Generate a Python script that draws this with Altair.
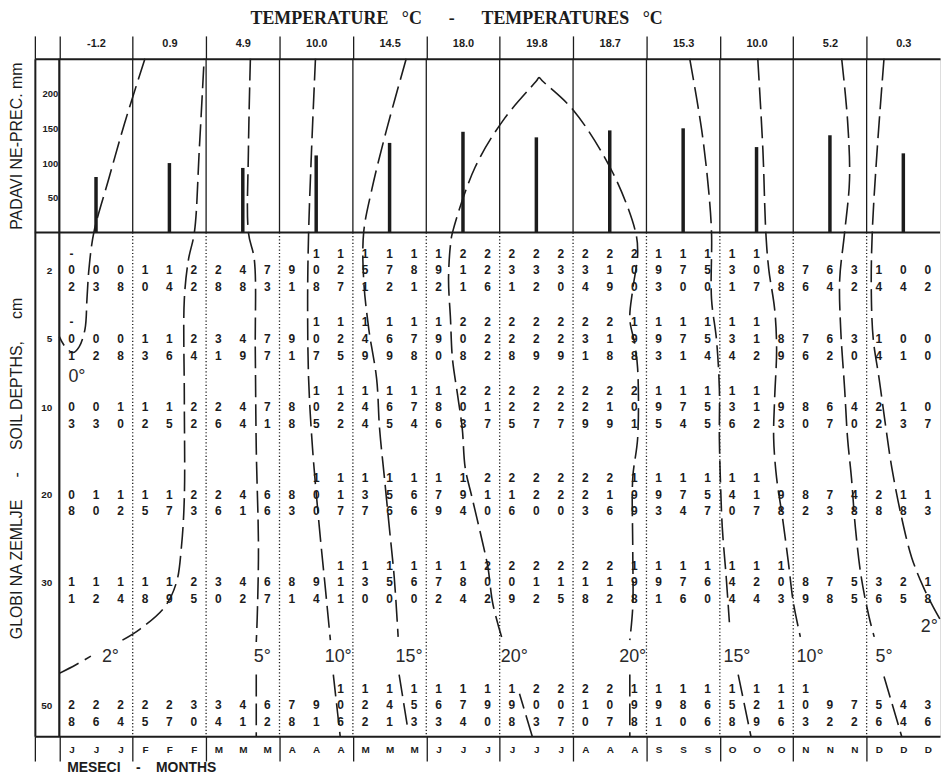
import json
import altair as alt
import pandas as pd

# ---------------- data ----------------
month_letters = ["J", "F", "M", "A", "M", "J", "J", "A", "S", "O", "N", "D"]
air_temp = ["-1.2", "0.9", "4.9", "10.0", "14.5", "18.0", "19.8", "18.7", "15.3", "10.0", "5.2", "0.3"]
precip_mm = [80, 100, 93, 111, 129, 145, 137, 147, 150, 123, 140, 114]
depths_cm = [2, 5, 10, 20, 30, 50]

# dekad soil temperatures (deg C), 3 per month
soil_2 = [-0.2, 0.3, 0.8, 1.0, 1.4, 2.2, 2.8, 4.8, 7.3, 9.1, 10.8, 12.7,
          15.1, 17.2, 18.1, 19.2, 21.1, 22.6, 23.1, 23.2, 23.0, 23.4, 21.9, 20.0,
          19.3, 17.0, 15.0, 13.1, 10.7, 8.8, 7.6, 6.4, 3.2, 1.4, 0.4, 0.2]
soil_5 = [-0.1, 0.2, 0.8, 1.3, 1.6, 2.4, 3.1, 4.9, 7.7, 9.1, 10.7, 12.5,
          14.9, 16.9, 17.8, 19.0, 20.8, 22.2, 22.8, 22.9, 22.9, 23.1, 21.8, 19.8,
          19.3, 17.1, 15.4, 13.4, 11.2, 8.9, 7.6, 6.2, 3.0, 1.4, 0.1, 0.0]
soil_10 = [0.3, 0.3, 1.0, 1.2, 1.5, 2.2, 2.6, 4.4, 7.1, 8.8, 10.5, 12.2,
           14.4, 16.5, 17.4, 18.6, 20.3, 21.7, 22.5, 22.7, 22.7, 22.9, 21.9, 20.1,
           19.5, 17.4, 15.5, 13.6, 11.2, 9.3, 8.0, 6.7, 4.0, 2.2, 1.3, 0.7]
soil_20 = [0.8, 1.0, 1.2, 1.5, 1.7, 2.3, 2.6, 4.1, 6.6, 8.3, 10.0, 11.7,
           13.7, 15.6, 16.6, 17.9, 19.4, 21.0, 21.6, 22.0, 22.0, 22.3, 21.6, 19.9,
           19.3, 17.4, 15.7, 14.0, 11.7, 9.8, 8.2, 7.3, 4.8, 2.8, 1.8, 1.3]
soil_30 = [1.1, 1.2, 1.4, 1.8, 1.9, 2.5, 3.0, 4.2, 6.7, 8.1, 9.4, 11.1,
           13.0, 15.0, 16.0, 17.2, 18.4, 20.2, 20.9, 21.2, 21.5, 21.8, 21.2, 19.8,
           19.1, 17.6, 16.0, 14.4, 12.4, 10.3, 8.9, 7.8, 5.5, 3.6, 2.5, 1.8]
soil_50 = [2.8, 2.6, 2.4, 2.5, 2.7, 3.0, 3.4, 4.1, 6.2, 7.8, 9.1, 10.6,
           12.2, 14.1, 15.3, 16.3, 17.4, 19.0, 19.8, 20.3, 20.7, 21.0, 20.7, 19.8,
           19.1, 18.0, 16.6, 15.8, 12.9, 11.6, 10.3, 9.2, 7.2, 5.6, 4.4, 3.6]

# isotherm traces: (dekad position, depth cm); negative values lie in the precipitation panel (mm)
iso_0 = [(3.50, -250), (2.70, -161), (2.01, -76), (1.41, 0), (1.21, 1.95), (1.13, 3.26),
         (1.05, 4.57), (0.81, 5.58), (0.56, 6.0), (0.24, 5.58), (0.0, 4.9)]
iso_2a = [(0.0, 44.8), (0.68, 43.4), (1.29, 42.0)]
iso_2b = [(2.58, 39.4), (3.30, 37.6), (4.31, 34.0), (4.79, 30.0), (4.99, 26.0), (5.11, 20.3),
          (5.11, 9.35), (5.11, 3.26), (5.28, 1.42), (5.52, 0), (5.72, -118.6), (5.92, -250)]
iso_5a = [(7.81, -250), (7.73, -118.6), (7.73, 0), (7.97, 1.42), (8.01, 5.72), (8.05, 14.66),
          (8.14, 26.0), (8.09, 35.65), (8.05, 39.7)]
iso_5b = [(8.05, 45.0), (8.05, 55)]
iso_10a = [(10.47, -250), (10.31, -118.6), (10.19, 0), (10.15, 3.26), (10.19, 7.9), (10.35, 14.66),
           (10.63, 23.75), (10.87, 30.8), (11.08, 39.4)]
iso_10b = [(11.2, 45.0), (11.48, 55)]
iso_15a = [(14.18, -250), (13.37, -147), (12.77, -61.4), (12.44, 0), (12.44, 2.39), (12.65, 4.57),
           (12.97, 7.9), (13.09, 12.39), (13.29, 18.07), (13.49, 23.75), (13.69, 29.43), (13.85, 38.87)]
iso_15b = [(13.89, 45.0), (14.26, 54.2)]
iso_20a = [(19.33, 55), (18.81, 48.1)]
iso_20b = [(18.08, 38.9), (17.72, 33.5), (17.52, 28.3), (17.28, 25.2), (16.87, 20.3), (16.59, 16.9),
           (16.47, 12.4), (16.27, 8.98), (16.07, 6.45), (15.99, 4.13), (15.91, 2.39), (15.99, 0.63),
           (16.07, 0), (17.0, -94.3), (18.2, -164.3), (19.5, -218), (19.61, -222.9), (19.75, -218),
           (21.02, -175.7), (22.63, -85.7), (23.56, 0), (23.64, 1.16), (23.44, 2.83), (23.32, 4.13),
           (23.52, 5.36), (23.64, 7.17), (23.64, 13.52), (23.44, 18.07), (23.44, 26.0), (23.44, 34.0),
           (23.32, 39.4)]
iso_20c = [(23.32, 45.0), (23.32, 55)]
iso_15c = [(25.77, -250), (26.26, -147), (26.54, -61.4), (26.66, 0), (26.66, 3.26), (26.86, 5.0),
           (26.98, 8.62), (26.98, 13.52), (27.02, 18.07), (27.1, 23.75), (27.26, 29.43), (27.39, 36.5)]
iso_15d = [(27.75, 45.0), (28.27, 55)]
iso_10c = [(28.55, -250), (28.76, -118.6), (28.88, 0), (29.0, 1.95), (29.24, 3.70), (29.32, 5.72),
           (29.24, 9.35), (29.2, 13.52), (29.32, 18.07), (29.56, 22.61), (29.8, 27.7), (30.0, 33.2),
           (30.29, 38.87)]
iso_5c = [(31.98, -250), (32.22, -161.4), (32.3, -75.7), (32.1, 0), (31.9, 2.39), (31.94, 4.57),
          (32.1, 8.62), (32.22, 13.52), (32.38, 18.07), (32.54, 23.75), (32.78, 29.43), (33.1, 35.65),
          (33.31, 38.87)]
iso_5d = [(33.71, 45.3), (34.43, 55)]
iso_2c = [(33.71, -250), (33.43, -118.6), (33.23, 0), (33.19, 2.83), (33.27, 5.0), (33.51, 7.9),
          (33.79, 12.39), (34.03, 16.93), (34.43, 22.61), (34.84, 27.16), (35.32, 30.8), (35.72, 34.0),
          (36.0, 36.0)]

iso_label_text = ["0°", "2°", "5°", "10°", "15°", "20°", "20°", "15°", "10°", "5°", "2°"]
iso_label_u = [0.72, 2.09, 8.3, 11.4, 14.3, 18.6, 23.44, 27.7, 30.69, 33.71, 35.56]
iso_label_v = [7.76, 42.1, 42.1, 42.1, 42.1, 42.1, 42.1, 42.1, 42.1, 42.1, 37.3]

# ---------------- layout / style ----------------
W = 910
H = 681
DEK = W / 37.0
k = H / 682.0
LINE_H = 16.8 * k
Y_DOMAIN = [-250, 0, 2, 5, 10, 20, 30, 50, 55]
Y_RANGE = [r * k for r in [0, 175, 213, 282, 351, 439, 527, 651, 682]]

SANS = "Liberation Sans, Arial, Helvetica, sans-serif"
SERIF = "Liberation Serif, Times New Roman, serif"
INK = "#1c1c1c"
NB = "\u00a0"  # non-collapsing space used for the wide word spacing of the original lettering

xs = alt.Scale(domain=[-1, 36], nice=False, zero=False)
ys = alt.Scale(domain=Y_DOMAIN, range=Y_RANGE, nice=False, zero=False)


def stack(v):
    chars = list(f"{round(abs(v) * 10):02d}")
    if v < 0:
        chars = ["-"] + chars
    while len(chars) < 3:
        chars = [" "] + chars
    return "\n".join(chars)


series = [soil_2, soil_5, soil_10, soil_20, soil_30, soil_50]
num_rows = []
for d, vals in zip(depths_cm, series):
    for i, v in enumerate(vals):
        num_rows.append({"u": i + 0.5, "depth": d, "txt": stack(v)})
num_df = pd.DataFrame(num_rows)

precip_df = pd.DataFrame({"u": [3 * m + 1.5 for m in range(12)], "p": precip_mm})
precip_df["negp"] = -precip_df["p"]
precip_df["surf"] = 0

segments = {"0": iso_0, "2a": iso_2a, "2b": iso_2b, "5a": iso_5a, "5b": iso_5b,
            "10a": iso_10a, "10b": iso_10b, "15a": iso_15a, "15b": iso_15b,
            "20a": iso_20a, "20b": iso_20b, "20c": iso_20c, "15c": iso_15c, "15d": iso_15d,
            "10c": iso_10c, "5c": iso_5c, "5d": iso_5d, "2c": iso_2c}
iso_rows = []
for name, pts in segments.items():
    for j, (u, v) in enumerate(pts):
        iso_rows.append({"seg": name, "seq": j, "u": u, "v": v})
iso_df = pd.DataFrame(iso_rows)
lab_df = pd.DataFrame({"t": iso_label_text, "u": iso_label_u, "v": iso_label_v})

bound_df = pd.DataFrame({"u": list(range(3, 36, 3))})
bound_df["top"] = Y_DOMAIN[0]
bound_df["surf"] = 0
bound_df["bot"] = Y_DOMAIN[-1]
jan_df = pd.DataFrame({"u": [0], "top": [Y_DOMAIN[0]], "bot": [Y_DOMAIN[-1]]})
surf_df = pd.DataFrame({"v": [0], "u1": [-1], "u2": [36]})

title_text = ("TEMPERATURE" + NB * 3 + "°C" + NB * 6 + "-" + NB * 6 + "TEMPERATURES" + NB * 3 + "°C")
depth_title = ("GLOBI NA ZEMLJE" + NB * 5 + "-" + NB * 5 + "SOIL DEPTHS," + NB * 5 + "cm")
month_title = ("MESECI" + NB * 4 + "-" + NB * 4 + "MONTHS")

# ---------------- axes ----------------
top_axis = alt.Axis(
    orient="top", values=[-1] + list(range(0, 34, 3)), tickSize=23, tickColor=INK, tickWidth=1.3,
    domainColor=INK, domainWidth=2,
    labelExpr=f"datum.value >= 0 ? {json.dumps(air_temp)}[floor(datum.value / 3)] : ''",
    labelOffset=1.5 * DEK, labelPadding=-8, labelBaseline="middle", labelAlign="center",
    labelFont=SANS, labelFontSize=11, labelFontWeight="bold", labelColor=INK,
    labelFlush=False, labelOverlap=False, labelBound=False, grid=False, title=None)

bottom_axis = alt.Axis(
    orient="bottom", values=[-1] + list(range(0, 36)), tickSize=25,
    tickColor={"condition": {"test": "datum.value < 0 || datum.value % 3 == 0", "value": INK},
               "value": "transparent"},
    tickWidth=1.3, domainColor=INK, domainWidth=2,
    labelExpr=f"datum.value >= 0 ? {json.dumps(month_letters)}[floor(datum.value / 3)] : ''",
    labelOffset=DEK / 2, labelPadding=-12, labelBaseline="middle", labelAlign="center",
    labelFont=SANS, labelFontSize=10, labelFontWeight="bold", labelColor=INK,
    labelFlush=False, labelOverlap=False, labelBound=False, grid=False,
    title=month_title, titleFont=SANS, titleFontSize=14, titleFontWeight="bold",
    titleColor=INK, titleAlign="left", titleBaseline="alphabetic", titleX=32, titleY=36)

precip_axis = alt.Axis(
    orient="left", values=[-200, -150, -100, -50], labelExpr="abs(datum.value)", ticks=False,
    labelPadding=-23, labelAlign="right", labelBaseline="middle", labelFont=SANS,
    labelFontSize=9.5, labelFontWeight="bold", labelColor=INK, domain=True, domainColor=INK,
    domainWidth=2, grid=False, labelBound=False, labelFlush=False, labelOverlap=False,
    title="PADAVI NE-PREC. mm", titleFont=SANS, titleFontSize=16, titleFontWeight="normal",
    titleColor=INK, titleAngle=270, titleAlign="center", titleBaseline="bottom",
    titleX=-10, titleY=87.5 * k)

depth_axis = alt.Axis(
    orient="left", values=depths_cm, ticks=False, labelPadding=-17, labelAlign="right",
    labelBaseline="middle", labelFont=SANS, labelFontSize=10, labelFontWeight="bold",
    labelColor=INK, domain=False, grid=False, labelBound=False, labelFlush=False,
    labelOverlap=False,
    title=depth_title, titleFont=SANS, titleFontSize=16,
    titleFontWeight="normal", titleColor=INK, titleAngle=270, titleAlign="center",
    titleBaseline="bottom", titleX=-10, titleY=(470 - 58) * k)

# ---------------- layers ----------------
rule_top = alt.Chart(bound_df).mark_rule(color=INK, strokeWidth=1.3).encode(
    x=alt.X("u:Q", scale=xs, axis=None), y=alt.Y("top:Q", scale=ys, axis=None), y2="surf:Q")
rule_bot = alt.Chart(bound_df).mark_rule(color=INK, strokeWidth=1.3, strokeDash=[1.2, 2.2]).encode(
    x=alt.X("u:Q", scale=xs, axis=None), y=alt.Y("surf:Q", scale=ys, axis=None), y2="bot:Q")
rule_jan = alt.Chart(jan_df).mark_rule(color=INK, strokeWidth=2.2).encode(
    x=alt.X("u:Q", scale=xs, axis=None), y=alt.Y("top:Q", scale=ys, axis=None), y2="bot:Q")
rule_surf = alt.Chart(surf_df).mark_rule(color=INK, strokeWidth=2).encode(
    x=alt.X("u1:Q", scale=xs, axis=None), x2="u2:Q", y=alt.Y("v:Q", scale=ys, axis=None))

bars = alt.Chart(precip_df).mark_rule(color=INK, strokeWidth=3.5).encode(
    x=alt.X("u:Q", scale=xs, axis=top_axis),
    y=alt.Y("negp:Q", scale=ys, axis=precip_axis), y2="surf:Q")

nums = alt.Chart(num_df).mark_text(
    font=SANS, fontSize=12, fontWeight="bold", color=INK, lineBreak="\n",
    lineHeight=LINE_H, baseline="middle", align="center", dy=-LINE_H).encode(
    x=alt.X("u:Q", scale=xs, axis=bottom_axis),
    y=alt.Y("depth:Q", scale=ys, axis=depth_axis), text="txt:N")

iso = alt.Chart(iso_df).mark_line(
    color=INK, strokeWidth=1.6, strokeDash=[22, 7], interpolate="catmull-rom").encode(
    x=alt.X("u:Q", scale=xs, axis=None), y=alt.Y("v:Q", scale=ys, axis=None),
    detail="seg:N", order="seq:Q")

iso_lab = alt.Chart(lab_df).mark_text(
    font=SANS, fontSize=18, color="#2a2a2a", baseline="middle", align="center").encode(
    x=alt.X("u:Q", scale=xs, axis=None), y=alt.Y("v:Q", scale=ys, axis=None), text="t:N")

chart = alt.layer(rule_top, rule_bot, rule_jan, rule_surf, bars, nums, iso, iso_lab).resolve_axis(
    x="independent", y="independent").properties(
    width=W, height=H, padding=0,
    title=alt.Title(title_text, font=SERIF, fontSize=18,
                    fontWeight="bold", color=INK, anchor="middle", frame="group", dx=-31,
                    offset=7),
).configure_view(stroke=None).configure(background="white")

chart.save("out.html", embed_options={"renderer": "svg", "actions": False})
